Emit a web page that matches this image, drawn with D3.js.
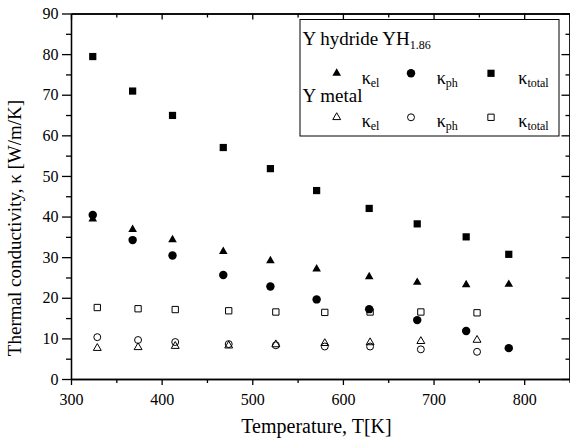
<!DOCTYPE html>
<html>
<head>
<meta charset="utf-8">
<script src="https://cdn.jsdelivr.net/npm/d3@7"></script>
<style>
  html, body { margin: 0; padding: 0; background: #fff; }
  svg { display: block; }
  svg text { font-family: "Liberation Serif", "Times New Roman", Times, serif; fill: #000; }
  .axis path, .axis line { stroke: #000; stroke-width: 1.3; }
  .axis text { font-size: 16px; }
</style>
</head>
<body>
<svg id="chart" width="570" height="440"></svg>
<script>
// Y hydride YH1.86
const tempHydride = [324, 368, 412, 468, 520, 571, 629, 682, 736, 783];
const kElHydride  = [39.4, 36.8, 34.3, 31.4, 29.1, 27.1, 25.2, 23.8, 23.2, 23.3];
const kPhHydride  = [40.4, 34.2, 30.4, 25.6, 22.8, 19.6, 17.2, 14.5, 11.8, 7.6];
const kTotHydride = [79.4, 70.9, 64.9, 57.0, 51.8, 46.4, 42.0, 38.2, 35.0, 30.7];

// Y metal
const tempMetal = [329, 374, 415, 474, 526, 580, 630, 686, 748];
const kElMetal  = [7.6, 7.8, 8.1, 8.2, 8.5, 8.8, 9.0, 9.3, 9.6];
const kPhMetal  = [10.3, 9.6, 9.1, 8.6, 8.3, 8.0, 8.0, 7.3, 6.7];
const kTotMetal = [17.6, 17.3, 17.1, 16.8, 16.5, 16.4, 16.5, 16.5, 16.3];

const xTicks = [300, 400, 500, 600, 700, 800];
const xMinor = [350, 450, 550, 650, 750, 850];
const yTicks = [0, 10, 20, 30, 40, 50, 60, 70, 80, 90];
const yMinor = [5, 15, 25, 35, 45, 55, 65, 75, 85];

const kLabels = ['el', 'ph', 'total'];

const FONT = '"Liberation Serif", "Times New Roman", Times, serif';
const svg = d3.select('#chart');
const margin = {top: 13.5, right: 0, bottom: 61, left: 71};
const W = 570, H = 440;

const x = d3.scaleLinear().domain([300, 850]).range([margin.left, W - margin.right - 0.5]);
const y = d3.scaleLinear().domain([0, 90]).range([H - margin.bottom, margin.top]);

const x0 = x.range()[0], x1 = x.range()[1];
const y0 = y.range()[0], y1 = y.range()[1];

// axes: outward ticks left/bottom, inward ticks top/right
const addAxis = (axis, tr) => {
  const g = svg.append('g').attr('class', 'axis').attr('transform', tr).call(axis);
  g.attr('font-family', FONT).attr('font-size', 16);
  return g;
}
addAxis(d3.axisLeft(y).tickValues(yTicks).tickSize(9).tickSizeOuter(0).tickPadding(3.5), `translate(${x0},0)`);
addAxis(d3.axisLeft(y).tickValues(yMinor).tickSize(5).tickSizeOuter(0).tickFormat(''), `translate(${x0},0)`);
addAxis(d3.axisBottom(x).tickValues(xTicks).tickSize(6).tickSizeOuter(0).tickPadding(9), `translate(0,${y0})`);
addAxis(d3.axisBottom(x).tickValues(xMinor).tickSize(4).tickSizeOuter(0).tickFormat(''), `translate(0,${y0})`);
addAxis(d3.axisTop(x).tickValues(xTicks).tickSize(-6).tickSizeOuter(0).tickFormat(''), `translate(0,${y1})`);
addAxis(d3.axisTop(x).tickValues(xMinor).tickSize(-4).tickSizeOuter(0).tickFormat(''), `translate(0,${y1})`);
addAxis(d3.axisRight(y).tickValues(yTicks).tickSize(-8).tickSizeOuter(0).tickFormat(''), `translate(${x1},0)`);
addAxis(d3.axisRight(y).tickValues(yMinor).tickSize(-4).tickSizeOuter(0).tickFormat(''), `translate(${x1},0)`);

// axis titles
svg.append('text').attr('x', 316.5).attr('y', 433).attr('text-anchor', 'middle')
  .attr('font-size', 20).text('Temperature, T[K]');
svg.append('text').attr('transform', 'translate(21,228) rotate(-90)').attr('text-anchor', 'middle')
  .attr('font-size', 19).text('Thermal conductivity, \u03ba [W/m/K]');

// marker shapes
const triFilled = d3.symbol().type(d3.symbolTriangle).size(32)();
const cirFilled = d3.symbol().type(d3.symbolCircle).size(56)();
const sqFilled  = d3.symbol().type(d3.symbolSquare).size(52)();
const triOpen = d3.symbol().type(d3.symbolTriangle).size(27)();
const cirOpen = d3.symbol().type(d3.symbolCircle).size(38)();
const sqOpen  = d3.symbol().type(d3.symbolSquare).size(40)();

const series = [
  {t: tempHydride, v: kElHydride,  path: triFilled, fill: '#000'},
  {t: tempHydride, v: kPhHydride,  path: cirFilled, fill: '#000'},
  {t: tempHydride, v: kTotHydride, path: sqFilled,  fill: '#000'},
  {t: tempMetal,   v: kElMetal,    path: triOpen,   fill: 'none'},
  {t: tempMetal,   v: kPhMetal,    path: cirOpen,   fill: 'none'},
  {t: tempMetal,   v: kTotMetal,   path: sqOpen,    fill: 'none'}
];

series.forEach((s)=>{
  svg.append('g').selectAll('path').data(s.v).enter().append('path')
    .attr('d', s.path)
    .attr('transform', (d,i) => `translate(${x(s.t[i])},${y(d)})`)
    .attr('fill', s.fill)
    .attr('stroke', '#000')
    .attr('stroke-width', s.fill === 'none' ? 1 : 0);
});

// legend
const lg = svg.append('g');
lg.append('rect').attr('x', 300).attr('y', 19.5).attr('width', 259).attr('height', 116.5)
  .attr('fill', '#fff').attr('stroke', '#000').attr('stroke-width', 1);

const t1 = lg.append('text').attr('x', 302.5).attr('y', 45).attr('font-size', 19);
t1.append('tspan').text('Y hydride YH');
t1.append('tspan').attr('font-size', 12).attr('dy', 3.5).text('1.86');
lg.append('text').attr('x', 302.5).attr('y', 101.7).attr('font-size', 19).text('Y metal');

const legX = [336.7, 411, 491];
const legTextX = [361.7, 436.7, 518.3];
[[series.slice(0,3), 73.3, 84], [series.slice(3), 117.3, 127.3]].forEach(([ss, my, ty])=>{
  ss.forEach((s, i)=>{
    lg.append('path').attr('d', s.path).attr('transform', `translate(${legX[i]},${my})`)
      .attr('fill', s.fill).attr('stroke', '#000').attr('stroke-width', s.fill === 'none' ? 1 : 0);
    const t = lg.append('text').attr('x', legTextX[i]).attr('y', ty).attr('font-size', 18);
    t.append('tspan').text('\u03ba');
    t.append('tspan').attr('font-size', 12).attr('dy', 3).text(kLabels[i]);
  });
});
</script>
</body>
</html>
